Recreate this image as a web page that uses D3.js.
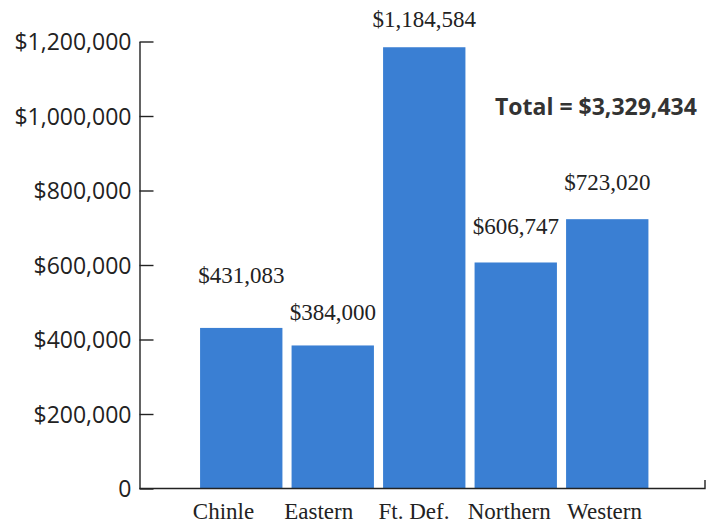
<!DOCTYPE html>
<html>
<head>
<meta charset="utf-8">
<script src="https://cdn.jsdelivr.net/npm/d3@7"></script>
<style>
  html, body { margin: 0; padding: 0; background: #ffffff; }
  svg { display: block; }
</style>
</head>
<body>
<svg id="chart" width="717" height="524"></svg>
<script>
// ---- data ----
const categories = ["Chinle", "Eastern", "Ft. Def.", "Northern", "Western"];
const values = [431083, 384000, 1184584, 606747, 723020];
const yTicks = [0, 200000, 400000, 600000, 800000, 1000000, 1200000];
const totalLabel = "Total = $3,329,434";

// ---- layout (not data) ----
const labelLift = [45, 25, 20, 28, 29]; // gap between bar top and value label baseline

const svg = d3.select("#chart");
const ink = "#222";

const y = d3.scaleLinear().domain([0, 1200000]).range([488.5, 41.5]);
const x = d3.scaleBand().domain(categories).range([195.5, 653]).paddingInner(0.1).paddingOuter(0.05);
const xLab = d3.scalePoint().domain(categories).range([223, 604]);

// bars
svg.append("g").selectAll("rect")
  .data(categories)
  .join("rect")
  .attr("x", d => x(d))
  .attr("width", x.bandwidth())
  .attr("y", (d, i) => y(values[i]))
  .attr("height", (d, i) => y(0) - y(values[i]))
  .attr("fill", "#3a7fd3");

// value labels
svg.append("g").selectAll("text")
  .data(categories)
  .join("text")
  .attr("x", d => x(d) + x.bandwidth() / 2)
  .attr("y", (d, i) => y(values[i]) - labelLift[i])
  .attr("text-anchor", "middle")
  .attr("font-family", "'Liberation Serif', 'Times New Roman', serif")
  .attr("font-size", 23)
  .attr("fill", ink)
  .text((d, i) => "$" + d3.format(",")(values[i]));

// y axis
const fmt = d => d === 0 ? "0" : "$" + d3.format(",")(d);
const yAxis = svg.append("g")
  .attr("transform", "translate(139.5,0)")
  .call(d3.axisLeft(y).tickValues(yTicks).tickFormat(fmt).tickSize(-14).tickSizeOuter(0).tickPadding(8));
yAxis.select(".domain").attr("stroke", ink).attr("stroke-width", 1.4);
yAxis.selectAll(".tick line").attr("stroke", ink).attr("stroke-width", 1.4);
yAxis.selectAll(".tick text")
  .attr("font-family", "'Open Sans', sans-serif")
  .attr("font-size", 23)
  .attr("fill", ink)
  .attr("dy", "0.36em");

// x axis (domain line with small upturned end) and category labels
const xAxis = svg.append("g")
  .attr("transform", "translate(0,488.5)")
  .call(d3.axisBottom(xLab).tickSize(0).tickPadding(14));
xAxis.select(".domain").remove();
xAxis.selectAll(".tick text")
  .attr("font-family", "'Liberation Serif', 'Times New Roman', serif")
  .attr("font-size", 23)
  .attr("fill", ink)
  .attr("dy", "0.71em");

svg.append("path")
  .attr("d", d3.line()([[139.5, 488.5], [705, 488.5], [705, 480]]))
  .attr("fill", "none")
  .attr("stroke", ink)
  .attr("stroke-width", 1.4);

// total annotation
svg.append("text")
  .attr("x", 495)
  .attr("y", 115)
  .attr("font-family", "'Open Sans', sans-serif")
  .attr("font-weight", "bold")
  .attr("font-size", 23)
  .attr("fill", "#333")
  .text(totalLabel);
</script>
</body>
</html>
